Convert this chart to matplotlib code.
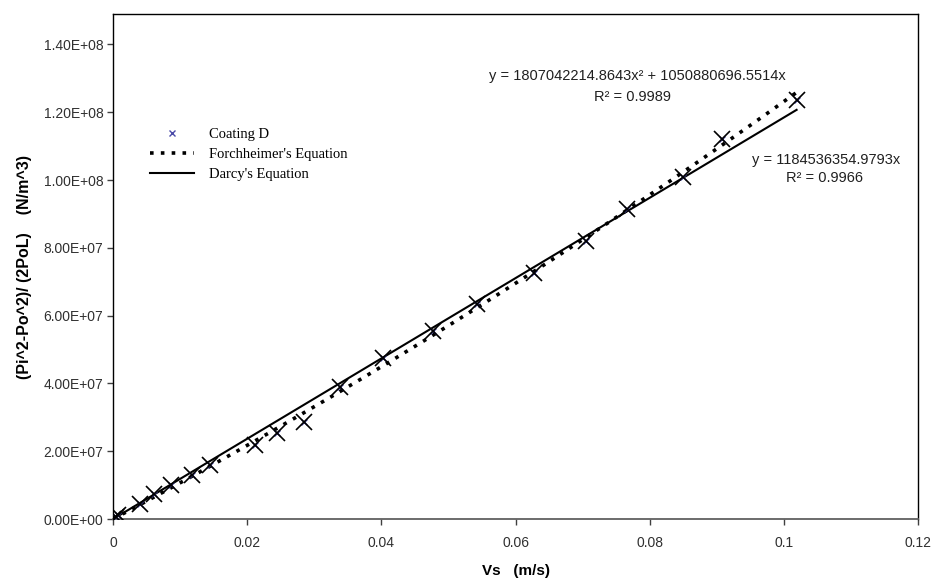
import numpy as np
import matplotlib
matplotlib.use("Agg")
import matplotlib.pyplot as plt
from matplotlib.ticker import FuncFormatter, MultipleLocator

# -----------------------
# Data
# -----------------------
vs = [0.0, 0.0005, 0.0008, 0.0040, 0.0061, 0.0087, 0.0118, 0.0145, 0.0212,
      0.0245, 0.0284, 0.0339, 0.0403, 0.0477, 0.0543, 0.0628, 0.0705,
      0.0766, 0.0850, 0.0908, 0.1019]
dp = [0.0, 0.5e6, 1.1e6, 4.6e6, 7.3e6, 1.0e7, 1.3e7, 1.6e7, 2.2e7,
      2.55e7, 2.85e7, 3.9e7, 4.75e7, 5.55e7, 6.35e7, 7.25e7, 8.2e7,
      9.15e7, 1.01e8, 1.12e8, 1.235e8]

# trendline coefficients (from the chart labels)
forch_a = 1807042214.8643
forch_b = 1050880696.5514
darcy_k = 1184536354.9793
forch_r2 = 0.9989
darcy_r2 = 0.9966

x_fit = np.linspace(0, max(vs), 200)
y_forch = forch_a * x_fit**2 + forch_b * x_fit
y_darcy = darcy_k * x_fit

# -----------------------
# Plot
# -----------------------
plt.rcParams['font.family'] = 'Liberation Sans'

fig = plt.figure(figsize=(9.36, 5.8), dpi=100)
ax = fig.add_axes([0.1207, 0.105, 0.8601, 0.871])

ax.plot(x_fit, y_darcy, color='black', lw=1.5, label="Darcy's Equation", zorder=3)
ax.plot(x_fit, y_forch, color='black', lw=2.6, linestyle=(0, (1, 2)),
        label="Forchheimer's Equation", zorder=3)
ax.plot(vs, dp, linestyle='none', marker='x', ms=5, mew=1.0,
        color='#4a4aa8', label='Coating D', zorder=4)
ax.plot(vs, dp, linestyle='none', marker='x', ms=11, mew=1.2,
        color='black', zorder=5)

ax.set_xlim(0, 0.12)
ax.set_ylim(0, 1.49e8)
ax.xaxis.set_major_locator(MultipleLocator(0.02))
ax.yaxis.set_major_locator(MultipleLocator(2e7))
ax.xaxis.set_major_formatter(FuncFormatter(lambda v, p: '0' if v == 0 else f'{v:g}'))
ax.yaxis.set_major_formatter(FuncFormatter(lambda v, p: f'{v:.2E}'))
ax.tick_params(direction='out', length=4, width=1, colors='#404040',
               labelsize=10, labelcolor='#303030', pad=3)
ax.tick_params(axis='x', pad=8)

for s in ['top', 'right', 'left']:
    ax.spines[s].set_color('black')
    ax.spines[s].set_linewidth(1.0)
ax.spines['bottom'].set_color('#606060')
ax.spines['bottom'].set_linewidth(1.3)

ax.set_xlabel('Vs   (m/s)', fontsize=11, fontweight='bold', labelpad=10)
ax.set_ylabel('(Pi^2-Po^2)/ (2PoL)    (N/m^3)', fontsize=11.5, fontweight='bold', labelpad=8)

handles, labels = ax.get_legend_handles_labels()
order = [2, 1, 0]
ax.legend([handles[i] for i in order], [labels[i] for i in order],
          loc='upper left', bbox_to_anchor=(0.03, 0.8), frameon=False,
          prop={'family': 'Liberation Serif', 'size': 10.5},
          handlelength=3, handletextpad=1.0, labelspacing=0.45)

ax.text(0.0781, 1.308e8, f'y = {forch_a:.4f}x\u00b2 + {forch_b:.4f}x',
        ha='center', va='center', fontsize=10.5, color='#202020')
ax.text(0.0775, 1.244e8, f'R\u00b2 = {forch_r2:.4f}',
        ha='center', va='center', fontsize=10.5, color='#202020')
ax.text(0.1063, 1.058e8, f'y = {darcy_k:.4f}x',
        ha='center', va='center', fontsize=10.5, color='#202020')
ax.text(0.1060, 1.005e8, f'R\u00b2 = {darcy_r2:.4f}',
        ha='center', va='center', fontsize=10.5, color='#202020')

fig.savefig('out.png', dpi=100)
